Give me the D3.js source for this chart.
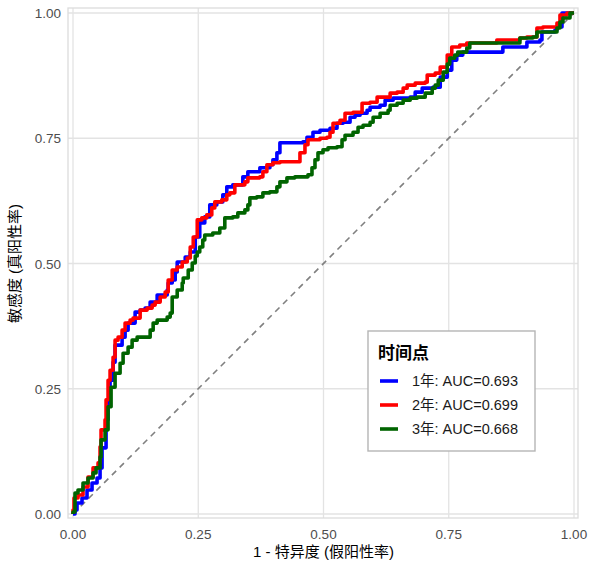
<!DOCTYPE html>
<html>
<head>
<meta charset="utf-8">
<script src="https://cdn.jsdelivr.net/npm/d3@7"></script>
<style>
  body { margin: 0; background: #fff; }
  svg text { font-family: "Liberation Sans", Arial, "Noto Sans CJK SC", sans-serif; }
</style>
</head>
<body>
<div id="chart"></div>
<script>
// ROC curves per time point
var seriesNames = ["1年: AUC=0.693", "2年: AUC=0.699", "3年: AUC=0.668"];
var seriesColors = ["#0000ff", "#ff0000", "#006400"];
var legendTitle = "时间点";
var xTicks = [0, 0.25, 0.5, 0.75, 1];
var yTicks = [0, 0.25, 0.5, 0.75, 1];

var fpr1 = [0, 0.004, 0.008, 0.018, 0.028, 0.038, 0.048, 0.054, 0.058, 0.066, 0.070, 0.074, 0.080, 0.084, 0.094, 0.098, 0.104, 0.110, 0.124, 0.124, 0.134, 0.144, 0.154, 0.168, 0.178, 0.188, 0.190, 0.198, 0.204, 0.208, 0.224, 0.234, 0.244, 0.253, 0.263, 0.273, 0.287, 0.299, 0.307, 0.319, 0.339, 0.349, 0.373, 0.393, 0.399, 0.407, 0.413, 0.459, 0.467, 0.479, 0.493, 0.513, 0.527, 0.539, 0.553, 0.563, 0.573, 0.587, 0.593, 0.613, 0.623, 0.639, 0.673, 0.683, 0.697, 0.719, 0.733, 0.747, 0.756, 0.766, 0.778, 0.852, 0.858, 0.898, 0.906, 0.932, 0.936, 0.962, 0.966, 0.976, 1];
var tpr1 = [0, 0.008, 0.022, 0.032, 0.048, 0.062, 0.072, 0.092, 0.132, 0.188, 0.228, 0.267, 0.303, 0.337, 0.337, 0.353, 0.367, 0.381, 0.387, 0.403, 0.407, 0.411, 0.423, 0.437, 0.437, 0.447, 0.461, 0.467, 0.483, 0.503, 0.513, 0.523, 0.553, 0.581, 0.593, 0.617, 0.623, 0.637, 0.653, 0.657, 0.673, 0.683, 0.691, 0.697, 0.707, 0.721, 0.741, 0.743, 0.752, 0.762, 0.766, 0.770, 0.780, 0.782, 0.792, 0.796, 0.800, 0.806, 0.812, 0.816, 0.826, 0.830, 0.832, 0.842, 0.850, 0.852, 0.872, 0.886, 0.906, 0.916, 0.922, 0.922, 0.932, 0.932, 0.942, 0.946, 0.962, 0.966, 0.972, 1, 1];

var fpr2 = [0, 0, 0.002, 0.010, 0.020, 0.030, 0.040, 0.050, 0.054, 0.056, 0.064, 0.066, 0.070, 0.074, 0.080, 0.084, 0.090, 0.098, 0.104, 0.114, 0.120, 0.134, 0.148, 0.158, 0.164, 0.174, 0.184, 0.190, 0.198, 0.208, 0.218, 0.228, 0.234, 0.240, 0.248, 0.257, 0.267, 0.277, 0.283, 0.297, 0.307, 0.313, 0.323, 0.343, 0.349, 0.373, 0.379, 0.387, 0.399, 0.413, 0.449, 0.453, 0.463, 0.469, 0.479, 0.493, 0.507, 0.513, 0.519, 0.533, 0.543, 0.559, 0.577, 0.593, 0.607, 0.633, 0.647, 0.659, 0.667, 0.683, 0.703, 0.707, 0.723, 0.733, 0.747, 0.756, 0.772, 0.786, 0.846, 0.892, 0.906, 0.926, 0.938, 0.966, 0.972, 0.986, 1];
var tpr2 = [0, 0.008, 0.032, 0.038, 0.054, 0.074, 0.092, 0.102, 0.134, 0.168, 0.188, 0.228, 0.267, 0.287, 0.313, 0.347, 0.353, 0.367, 0.381, 0.387, 0.391, 0.407, 0.411, 0.417, 0.423, 0.433, 0.443, 0.467, 0.487, 0.493, 0.503, 0.511, 0.533, 0.553, 0.587, 0.591, 0.597, 0.611, 0.623, 0.627, 0.637, 0.641, 0.657, 0.663, 0.671, 0.673, 0.683, 0.697, 0.701, 0.703, 0.703, 0.721, 0.737, 0.747, 0.747, 0.750, 0.752, 0.762, 0.780, 0.786, 0.800, 0.802, 0.820, 0.822, 0.832, 0.840, 0.842, 0.850, 0.856, 0.860, 0.862, 0.876, 0.880, 0.892, 0.916, 0.932, 0.936, 0.940, 0.946, 0.950, 0.952, 0.970, 0.972, 0.980, 0.996, 1, 1];

var fpr3 = [0, 0, 0.004, 0.010, 0.020, 0.030, 0.040, 0.046, 0.054, 0.056, 0.064, 0.070, 0.076, 0.084, 0.094, 0.100, 0.110, 0.118, 0.128, 0.144, 0.154, 0.160, 0.168, 0.188, 0.194, 0.198, 0.208, 0.218, 0.220, 0.230, 0.238, 0.244, 0.248, 0.253, 0.259, 0.263, 0.279, 0.293, 0.303, 0.319, 0.329, 0.343, 0.349, 0.353, 0.367, 0.379, 0.393, 0.407, 0.413, 0.427, 0.443, 0.469, 0.477, 0.483, 0.489, 0.499, 0.509, 0.527, 0.537, 0.543, 0.559, 0.569, 0.579, 0.593, 0.599, 0.613, 0.629, 0.633, 0.647, 0.659, 0.673, 0.687, 0.703, 0.717, 0.723, 0.729, 0.739, 0.747, 0.752, 0.762, 0.768, 0.786, 0.792, 0.846, 0.892, 0.918, 0.926, 0.966, 0.972, 0.978, 0.992, 1];
var tpr3 = [0, 0.004, 0.042, 0.048, 0.062, 0.072, 0.082, 0.092, 0.114, 0.148, 0.168, 0.214, 0.253, 0.281, 0.301, 0.321, 0.333, 0.347, 0.353, 0.353, 0.367, 0.381, 0.387, 0.393, 0.401, 0.433, 0.447, 0.461, 0.471, 0.487, 0.501, 0.515, 0.523, 0.533, 0.547, 0.557, 0.561, 0.571, 0.591, 0.593, 0.601, 0.607, 0.617, 0.631, 0.633, 0.641, 0.643, 0.653, 0.663, 0.671, 0.673, 0.677, 0.691, 0.707, 0.721, 0.727, 0.731, 0.733, 0.747, 0.756, 0.762, 0.772, 0.776, 0.782, 0.792, 0.800, 0.806, 0.816, 0.820, 0.826, 0.830, 0.832, 0.840, 0.850, 0.856, 0.866, 0.882, 0.898, 0.910, 0.916, 0.922, 0.930, 0.940, 0.940, 0.950, 0.952, 0.962, 0.970, 0.982, 0.990, 1, 1];

var W = 590, H = 564;
var svg = d3.select("#chart").append("svg")
    .attr("width", W)
    .attr("height", H);

var x = d3.scaleLinear().domain([0, 1]).range([73, 574]);
var y = d3.scaleLinear().domain([0, 1]).range([514, 13]);
var panel = {x0: 68, x1: 578, y0: 8, y1: 518};

// grid
svg.append("g").selectAll("line.vx")
    .data(xTicks).enter().append("line")
    .attr("x1", d => x(d)).attr("x2", d => x(d))
    .attr("y1", panel.y0).attr("y2", panel.y1)
    .attr("stroke", "#e3e3e3").attr("stroke-width", 1.3);
svg.append("g").selectAll("line.hy")
    .data(yTicks).enter().append("line")
    .attr("y1", d => y(d)).attr("y2", d => y(d))
    .attr("x1", panel.x0).attr("x2", panel.x1)
    .attr("stroke", "#e3e3e3").attr("stroke-width", 1.3);

svg.append("rect")
    .attr("x", panel.x0).attr("y", panel.y0)
    .attr("width", panel.x1 - panel.x0).attr("height", panel.y1 - panel.y0)
    .attr("fill", "none").attr("stroke", "#dcdcdc").attr("stroke-width", 1.3);

// diagonal reference
svg.append("line")
    .attr("x1", x(0)).attr("y1", y(0))
    .attr("x2", x(1)).attr("y2", y(1))
    .attr("stroke", "#808080").attr("stroke-width", 1.6)
    .attr("stroke-dasharray", "6,5");

var series = [
    {fpr: fpr1, tpr: tpr1},
    {fpr: fpr2, tpr: tpr2},
    {fpr: fpr3, tpr: tpr3}
];

var line = d3.line()
    .x(d => x(d[0]))
    .y(d => y(d[1]))
    .curve(d3.curveStepAfter);

series.forEach(function(s, i) {
    svg.append("path")
        .datum(d3.zip(s.fpr, s.tpr))
        .attr("d", line)
        .attr("fill", "none")
        .attr("stroke", seriesColors[i])
        .attr("stroke-width", 3.6)
        .attr("stroke-linejoin", "round");
});

// axes
var fmt = d3.format(".2f");
svg.append("g").selectAll("text")
    .data(xTicks).enter().append("text")
    .attr("x", d => x(d)).attr("y", 539)
    .attr("text-anchor", "middle")
    .attr("font-size", 13.5).attr("fill", "#4d4d4d")
    .text(d => fmt(d));
svg.append("g").selectAll("text")
    .data(yTicks).enter().append("text")
    .attr("x", 61).attr("y", d => y(d) + 5)
    .attr("text-anchor", "end")
    .attr("font-size", 13.5).attr("fill", "#4d4d4d")
    .text(d => fmt(d));

svg.append("text")
    .attr("x", x(0.5)).attr("y", 557)
    .attr("text-anchor", "middle")
    .attr("font-size", 15).attr("fill", "#000")
    .text("1 - 特异度 (假阳性率)");
svg.append("text")
    .attr("transform", "translate(20," + y(0.5) + ") rotate(-90)")
    .attr("text-anchor", "middle")
    .attr("font-size", 15).attr("fill", "#000")
    .text("敏感度 (真阳性率)");

// legend
var lg = svg.append("g").attr("transform", "translate(368,331)");
lg.append("rect")
    .attr("width", 167).attr("height", 120)
    .attr("fill", "#fff").attr("stroke", "#b5b5b5").attr("stroke-width", 1.4);
lg.append("text")
    .attr("x", 10).attr("y", 28)
    .attr("font-size", 17).attr("font-weight", "bold")
    .text(legendTitle);
var items = lg.selectAll("g.item")
    .data(seriesNames).enter().append("g")
    .attr("transform", (d, i) => "translate(0," + (50 + i * 24) + ")");
items.append("line")
    .attr("x1", 12).attr("x2", 30)
    .attr("stroke", (d, i) => seriesColors[i])
    .attr("stroke-width", 3.6);
items.append("text")
    .attr("x", 44).attr("y", 5)
    .attr("font-size", 14.5).attr("fill", "#1a1a1a")
    .text(d => d);
</script>
</body>
</html>
